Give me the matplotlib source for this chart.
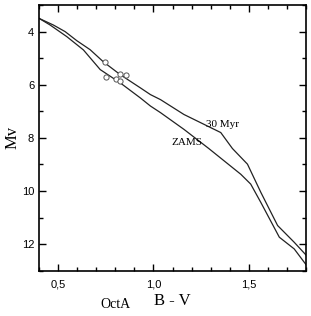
import numpy as np
import matplotlib.pyplot as plt
from matplotlib.ticker import MultipleLocator, FuncFormatter

# isochrone 30 Myr
iso_bv = [0.40, 0.475, 0.537, 0.598, 0.668, 0.738, 0.826, 0.932, 0.984, 1.037, 1.16, 1.353, 1.414, 1.493, 1.563, 1.651, 1.738, 1.805]
iso_mv = [3.50, 3.75, 4.00, 4.34, 4.68, 5.14, 5.62, 6.12, 6.37, 6.56, 7.12, 7.80, 8.40, 8.99, 10.05, 11.30, 11.93, 12.45]

# ZAMS
zams_bv = [0.40, 0.458, 0.546, 0.633, 0.721, 0.826, 0.932, 0.984, 1.037, 1.16, 1.29, 1.458, 1.51, 1.563, 1.66, 1.738, 1.805]
zams_mv = [3.50, 3.75, 4.19, 4.69, 5.43, 5.93, 6.50, 6.80, 7.05, 7.68, 8.40, 9.37, 9.74, 10.43, 11.74, 12.18, 12.82]

# stars
star_bv = [0.744, 0.753, 0.826, 0.855, 0.805, 0.824]
star_mv = [5.15, 5.72, 5.58, 5.64, 5.77, 5.85]

plt.rcParams['font.family'] = ['Liberation Sans', 'DejaVu Sans']
serif = 'Liberation Serif'

fig = plt.figure(figsize=(3.11, 3.16), dpi=100)
ax = fig.add_axes([0.1254, 0.1434, 0.8586, 0.8406])

ax.plot(iso_bv, iso_mv, color='#222222', lw=0.9)
ax.plot(zams_bv, zams_mv, color='#222222', lw=0.9)
ax.scatter(star_bv, star_mv, s=14, facecolors='white', edgecolors='#555555', linewidths=0.7, zorder=3)

ax.set_xlim(0.4, 1.8)
ax.set_ylim(13, 3)

ax.xaxis.set_major_locator(MultipleLocator(0.5))
ax.xaxis.set_minor_locator(MultipleLocator(0.1))
ax.yaxis.set_major_locator(MultipleLocator(2))
ax.yaxis.set_minor_locator(MultipleLocator(1))
ax.xaxis.set_major_formatter(FuncFormatter(lambda v, p: f"{v:.1f}".replace('.', ',')))

ax.tick_params(which='both', direction='in', top=True, right=True, labelsize=8, width=1)
ax.tick_params(which='major', length=5)
ax.tick_params(which='minor', length=3)
ax.tick_params(axis='x', pad=6)

for s in ax.spines.values():
    s.set_linewidth(1.2)

ax.text(1.36, 7.49, '30 Myr', fontsize=8, family=serif, ha='center', va='center')
ax.text(1.175, 8.17, 'ZAMS', fontsize=8, family=serif, ha='center', va='center')

ax.set_xlabel('B - V', family=serif, fontsize=12, labelpad=3)
ax.set_ylabel('Mv', family=serif, fontsize=12, labelpad=1)
fig.text(0.37, 0.035, 'OctA', family=serif, fontsize=10, ha='center', va='center')

fig.savefig('out.png', dpi=100)
